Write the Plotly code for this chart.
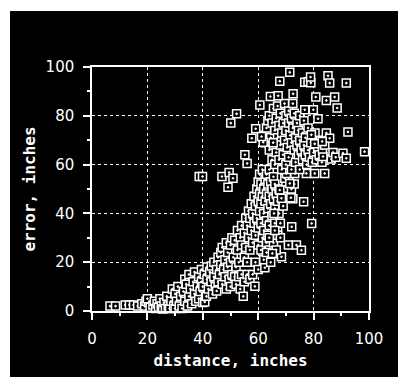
import plotly.graph_objects as go

# distance (inches) and error (inches)
distance = [
    6.5, 8.5, 12, 13.5, 15, 16.5, 18, 19, 19.5, 20.5, 21, 20,
    22, 22.5, 23, 23.5, 24, 24.5, 25, 25.5, 26, 26.5, 27, 27.5, 28, 28.5, 29, 29.5, 30, 30,
    30.5, 31, 31.5, 32, 32.5, 33, 33.5, 33.5, 34, 34.5, 35, 35, 35.5, 36, 36.5, 37, 37,
    37.5, 38, 38.5, 38.5, 39, 39.5, 39.5, 40, 40, 40.5, 40.7,
    41, 41.3, 41.5, 41.5, 42, 42.5, 43, 43.1, 43.5, 44, 44, 44.5, 45, 45, 45.5, 45.5, 46,
    46.5, 46.5, 47, 47, 47.5, 48, 48, 48.5, 48.5, 49, 49, 49.5, 50, 50, 50, 50.5, 50.5,
    51, 51.5, 51.5, 52, 52, 52.5, 52.5, 53, 53, 53.5, 53.5, 54, 54, 54, 54.6, 55, 55, 55,
    55.5, 55.5, 56, 56, 56, 56.5, 56.5, 57, 57, 57, 57.5, 57.5, 58, 58, 58, 58.5, 58.5,
    58.8, 59, 59, 59, 59.5, 59.5, 60, 60, 60, 60, 60,
    60.5, 60.5, 60.5, 61, 61, 61, 61, 61.5, 61.5, 61.5, 62, 62, 62, 62, 62.4, 62.5, 62.5,
    63, 63, 63, 63, 63.5, 63.5, 64, 64, 64, 64, 64.5, 64.5, 65, 65, 65, 65.1, 65.5, 65.5,
    66, 66, 66, 66.5, 67, 67, 67.5, 67.5, 68, 68.4, 68.5, 69, 70, 70, 71, 72, 72.5, 73,
    63.5, 64.5, 65.5, 66.5, 67, 68, 63, 64, 66,
    69.6, 71.4, 67.8, 68.4, 71.8, 65.7, 73.2, 70.2, 77.4, 80.4, 74.5, 72.6, 75.6,
    62, 62.5, 63, 63.5, 64, 64, 64.5, 65, 65, 65.5, 65.5, 66, 66, 66.5, 66.5, 67, 67,
    67.5, 67.5, 68, 68, 68.5, 68.5, 69, 69, 69.5, 69.5, 70, 70, 70, 70.5, 71, 71, 71,
    71.5, 72, 72, 72, 72.5, 72.5, 73, 73, 73.5, 73.5, 74, 74, 74.5, 74.5, 75, 75, 75,
    75.5, 76, 76, 76.5, 76.5, 77, 77, 77.5, 78, 78, 78.5, 79, 79.5, 80, 80.5, 81, 81.5,
    82, 82.5, 83, 83.4, 83.2, 84, 84.6, 85.8, 86.4, 87, 88,
    77.4, 71.4, 67.8, 76.8, 78, 79, 78.9, 85.2, 85.8, 91.8, 72.6, 64.4, 67.2, 80.8,
    87.6, 84.6, 88.5, 60.6, 52.2, 50.1, 79.9, 76.8, 81.6, 92.4, 98.4, 90.6, 91.8,
    84, 80.4, 83.1, 79.2, 55.2, 56, 57.7, 59.1, 61.8, 61.2, 65.4,
    38.7, 39.9, 46.9, 49.5, 50.9, 49.1, 76.4, 79.3, 72.1, 70.9, 73.8, 75.6, 65.1,
]
error = [
    2, 2, 2.5, 2.5, 2.5, 2, 3, 2, 4, 3.5, 1.5, 5,
    2.5, 4, 1, 3, 1.5, 5, 2, 0.8, 3.5, 1, 6, 2, 1, 4, 9, 2, 7, 1,
    4, 10, 2, 6, 1, 8, 13, 4, 11, 2, 6, 15, 9, 3, 12, 7, 16,
    4, 10, 14, 5, 8, 17, 12, 3.5, 10, 15, 3.7,
    6, 6, 18, 13, 9, 16, 12, 18.4, 7, 20, 14, 10, 8.2, 17, 22, 12, 15,
    19, 24, 11, 26, 17, 21, 14, 28, 9, 18, 24, 13, 27, 20, 10, 30, 15,
    22, 14, 29, 18, 11, 25, 33, 14, 20, 30, 9, 27, 15, 35, 6, 22, 32, 12,
    38, 26, 15, 35, 20, 30, 41, 25, 38, 13, 33, 44, 28, 15, 40, 36, 47,
    10.1, 31, 43, 20, 50, 38, 45, 34, 27, 53, 17,
    41, 48, 56, 36, 44, 25, 52, 47, 30, 58, 40, 50, 21, 33, 17.7, 45, 54,
    37, 48, 28, 56, 42, 52, 35, 47, 25, 58, 44, 53, 39, 50, 30, 23.6, 46, 55,
    36, 42, 52, 48, 33, 45, 40, 50, 36, 22.2, 46, 43, 53, 47, 55, 50, 46, 52,
    31, 20, 28, 25, 31, 30, 24, 30, 33,
    54.4, 52.3, 49.6, 46.2, 46.4, 40, 56.4, 56.4, 56.4, 56.4, 59.9, 59.5, 63.3,
    72, 69, 75, 78, 66, 80, 71, 62, 77, 83, 68, 74, 60, 79, 65, 71, 84,
    76, 62, 68, 81, 73, 58, 77, 64, 70, 85, 80, 60, 74, 67, 82, 77, 63,
    72, 79, 69, 58, 75, 85, 66, 81, 71, 61, 77, 68, 74, 64, 80, 70, 58,
    66, 73, 62, 78, 68, 64, 71, 60, 66, 75, 63, 69, 61, 65, 73, 62, 67,
    64, 70, 61, 63.3, 66.4, 68, 72.9, 70.8, 62.3, 65, 63,
    101.5, 97.8, 94.2, 93.7, 94, 93.5, 95.9, 96.4, 93.4, 93.4, 89, 87.9, 88.2, 87.7,
    87.7, 86.3, 83.2, 84.4, 80.8, 77, 82.5, 82.5, 78.8, 73.4, 65.3, 64.7, 62.6,
    56.4, 68.5, 69.5, 72.2, 64, 60.5, 70.8, 74.7, 69.2, 71.5, 69,
    55.1, 55.1, 55.1, 56.8, 54.4, 50.7, 44.8, 35.9, 34.5, 27, 27, 24.9, 23.6,
]
x_ticks = [0, 20, 40, 60, 80, 100]
y_ticks = [0, 20, 40, 60, 80, 100]

fig = go.Figure(go.Scatter(
    x=distance,
    y=error,
    mode="markers",
    cliponaxis=False,
    marker=dict(symbol="square-dot", size=8, color="black",
                line=dict(color="white", width=1.5)),
))

axis_style = dict(
    range=[0, 100],
    showline=True,
    linecolor="white",
    linewidth=1.5,
    mirror=True,
    showgrid=True,
    gridcolor="white",
    griddash="dot",
    gridwidth=1,
    zeroline=False,
    ticks="outside",
    ticklen=7,
    tickwidth=1.5,
    tickcolor="white",
    ticklabelstandoff=6,
    tickfont=dict(family="DejaVu Sans", size=15, color="white"),
    minor=dict(dtick=10, ticks="outside", ticklen=3, tickwidth=1.5,
               tickcolor="white", showgrid=False),
)

fig.update_xaxes(tickvals=x_ticks, **axis_style,
                 title=dict(text="<b>distance, inches</b>", standoff=8,
                            font=dict(family="DejaVu Sans Mono", size=16, color="white")))
fig.update_yaxes(tickvals=y_ticks, **axis_style,
                 title=dict(text="<b>error, inches</b>", standoff=6,
                            font=dict(family="DejaVu Sans Mono", size=16, color="white")))

# black panel behind the whole chart, leaving a thin white edge top/left/bottom
fig.add_shape(type="rect", xref="paper", yref="paper",
              x0=-0.296, x1=1.11, y0=-0.2705, y1=1.2295,
              fillcolor="black", line_width=0, layer="below")

fig.update_layout(
    width=398,
    height=387,
    margin=dict(l=92, r=29, t=67, b=76),
    paper_bgcolor="white",
    plot_bgcolor="black",
    showlegend=False,
)

# drop the page's default body margin so the chart sits at the window origin
fig.write_html("out.html", config={"displayModeBar": False},
               post_script="document.body.style.margin='0';")
